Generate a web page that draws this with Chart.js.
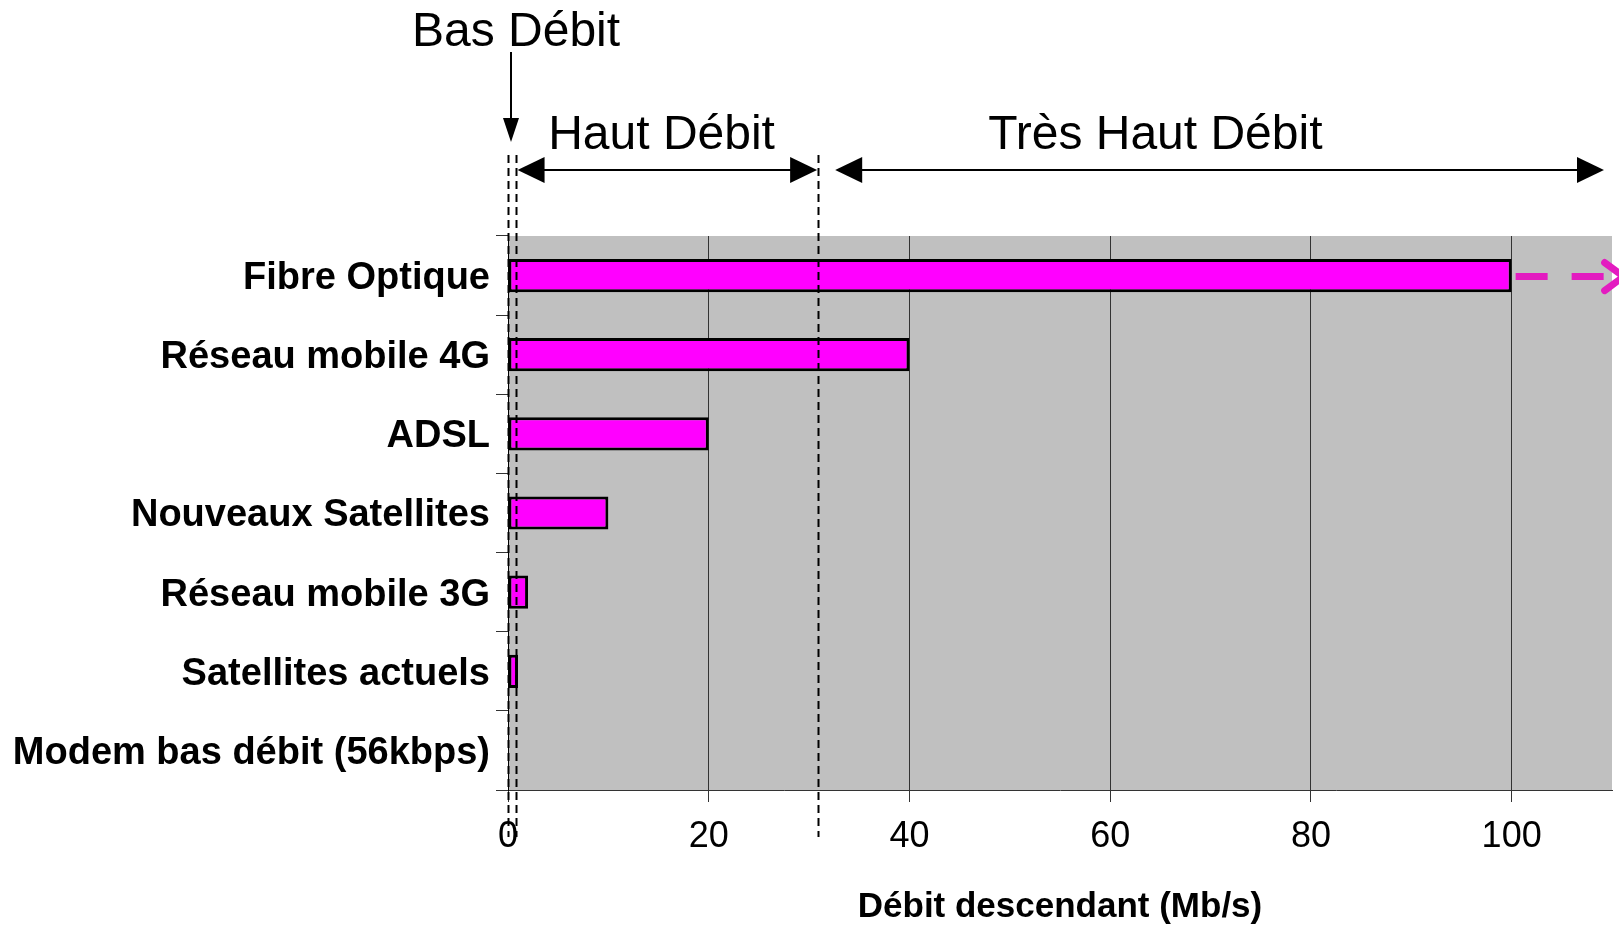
<!DOCTYPE html>
<html>
<head>
<meta charset="utf-8">
<script src="https://cdn.jsdelivr.net/npm/chart.js@4/dist/chart.umd.min.js"></script>
<style>
  html, body { margin: 0; padding: 0; background: #fff; }
  #wrap { width: 1619px; height: 925px; position: relative; }
</style>
</head>
<body>
<div id="wrap"><canvas id="c"></canvas></div>
<script>
// ---- Data ----
const categories = [
  "Fibre Optique",
  "Réseau mobile 4G",
  "ADSL",
  "Nouveaux Satellites",
  "Réseau mobile 3G",
  "Satellites actuels",
  "Modem bas débit (56kbps)"
];
const debits = [100, 40, 20, 10, 2, 1, 0.056];   // Mb/s
const xTicks = [0, 20, 40, 60, 80, 100];
const xMax = 110;
const axisTitle = "Débit descendant (Mb/s)";

// Zones of speed (thresholds on the x axis, Mb/s)
const seuils = [0, 0.8, 30.9];
const zoneLabels = ["Bas Débit", "Haut Débit", "Très Haut Débit"];
const zoneLabelCenters = [0.8, 15.3, 64.5];      // x value under each label centre
const hautArrow = [0.95, 30.8];                  // double arrow ends
const tresHautArrow = [32.6, 109.2];
const basArrowX = 0.3;

const FONT = "'Liberation Sans', Arial, sans-serif";

const annotations = {
  id: 'annotations',
  beforeDraw(chart) {
    const {ctx, chartArea: a} = chart;
    ctx.save();
    ctx.fillStyle = '#C0C0C0';
    ctx.fillRect(a.left, a.top, a.right - a.left, a.bottom - a.top);
    ctx.restore();
  },
  afterDraw(chart) {
    const {ctx, chartArea: a, scales} = chart;
    const xs = scales.x, ys = scales.y;
    const px = v => xs.getPixelForValue(v);
    ctx.save();

    // dashed threshold lines
    ctx.strokeStyle = '#000';
    ctx.lineWidth = 2;
    ctx.setLineDash([8, 5]);
    seuils.forEach(v => {
      const x = Math.round(px(v)) + 0.5;
      ctx.beginPath();
      ctx.moveTo(x, a.top - 81);
      ctx.lineTo(x, a.bottom + 47);
      ctx.stroke();
    });
    ctx.setLineDash([]);

    // arrows
    function head(x, y, dir) { // dir: +1 pointing right, -1 left
      ctx.beginPath();
      ctx.moveTo(x, y);
      ctx.lineTo(x - dir * 27, y - 13);
      ctx.lineTo(x - dir * 27, y + 13);
      ctx.closePath();
      ctx.fill();
    }
    function dbl(x1, x2, y) {
      ctx.lineWidth = 2;
      ctx.beginPath();
      ctx.moveTo(x1 + 20, y);
      ctx.lineTo(x2 - 20, y);
      ctx.stroke();
      head(x1, y, -1);
      head(x2, y, 1);
    }
    ctx.fillStyle = '#000';
    const yArr = a.top - 66;
    dbl(px(hautArrow[0]), px(hautArrow[1]), yArr);
    dbl(px(tresHautArrow[0]), px(tresHautArrow[1]), yArr);

    // down arrow for Bas Débit
    const bx = px(basArrowX);
    ctx.lineWidth = 2;
    ctx.beginPath();
    ctx.moveTo(bx, a.top - 184);
    ctx.lineTo(bx, a.top - 110);
    ctx.stroke();
    ctx.beginPath();
    ctx.moveTo(bx, a.top - 94);
    ctx.lineTo(bx - 8, a.top - 118);
    ctx.lineTo(bx + 8, a.top - 118);
    ctx.closePath();
    ctx.fill();

    // zone labels
    ctx.font = '48px ' + FONT;
    ctx.textAlign = 'center';
    ctx.textBaseline = 'alphabetic';
    ctx.fillText(zoneLabels[0], px(zoneLabelCenters[0]), a.top - 190);
    ctx.fillText(zoneLabels[1], px(zoneLabelCenters[1]), a.top - 87);
    ctx.fillText(zoneLabels[2], px(zoneLabelCenters[2]), a.top - 87);

    // pink dashed arrow beyond 100 on the fibre bar
    const yf = ys.getPixelForValue(0) + 1;
    const x0 = px(debits[0]) + 4;
    ctx.strokeStyle = '#E31CC0';
    ctx.lineWidth = 7;
    ctx.setLineDash([32, 24]);
    ctx.beginPath();
    ctx.moveTo(x0, yf);
    ctx.lineTo(x0 + 88, yf);
    ctx.stroke();
    ctx.setLineDash([]);
    ctx.lineCap = 'round';
    ctx.lineJoin = 'round';
    ctx.beginPath();
    ctx.moveTo(x0 + 89, yf - 14);
    ctx.lineTo(x0 + 108, yf);
    ctx.lineTo(x0 + 89, yf + 14);
    ctx.stroke();

    ctx.restore();
  }
};

new Chart(document.getElementById('c'), {
  type: 'bar',
  data: {
    labels: categories,
    datasets: [{
      data: debits,
      backgroundColor: '#FF00FF',
      borderColor: '#000000',
      borderWidth: 3,
      borderSkipped: false,
      barPercentage: 0.42,
      categoryPercentage: 1
    }]
  },
  options: {
    indexAxis: 'y',
    responsive: true,
    maintainAspectRatio: false,
    animation: false,
    devicePixelRatio: 1,
    layout: { padding: { top: 236, right: 7, left: 0, bottom: 0 } },
    plugins: { legend: { display: false }, tooltip: { enabled: false } },
    scales: {
      x: {
        type: 'linear',
        min: 0,
        max: xMax,
        afterBuildTicks(scale) {
          scale.ticks = xTicks.map(v => ({ value: v }));
        },
        afterFit(scale) { scale.height = 135; },
        grid: {
          color: '#333333',
          lineWidth: 1,
          tickLength: 12,
          drawOnChartArea: true
        },
        border: { color: '#333333', width: 1 },
        ticks: {
          color: '#000',
          font: { family: FONT, size: 36 },
          padding: 13,
          maxRotation: 0
        },
        title: {
          display: true,
          text: axisTitle,
          color: '#000',
          font: { family: FONT, size: 35, weight: 'bold' },
          padding: { top: 0, bottom: -3 }
        }
      },
      y: {
        type: 'category',
        offset: true,
        afterFit(scale) { scale.width = 508; },
        grid: {
          offset: true,
          drawOnChartArea: false,
          color: '#333333',
          tickLength: 12
        },
        border: { color: '#000', width: 1 },
        ticks: {
          color: '#000',
          font: { family: FONT, size: 38, weight: 'bold' },
          padding: 6,
          labelOffset: 3
        }
      }
    }
  },
  plugins: [annotations]
});
</script>
</body>
</html>
